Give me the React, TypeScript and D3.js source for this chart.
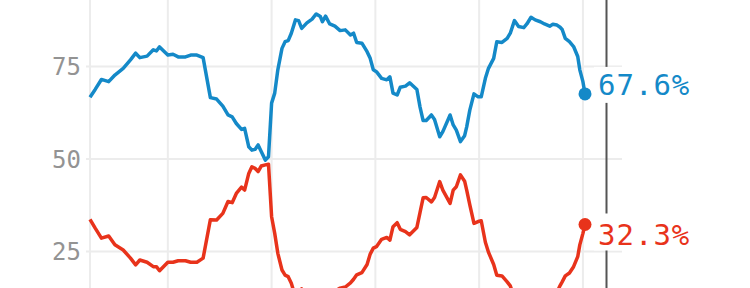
import React, { useEffect } from "react";
import * as d3 from "d3";

const periods = [
  2015.25, 2015.30, 2015.36, 2015.43, 2015.49, 2015.57, 2015.64, 2015.69, 2015.73, 2015.80,
  2015.86, 2015.89, 2015.92, 2016.00, 2016.05, 2016.10, 2016.17, 2016.22, 2016.28, 2016.34,
  2016.41, 2016.47, 2016.53, 2016.58, 2016.62, 2016.66, 2016.71, 2016.74, 2016.78, 2016.81,
  2016.84, 2016.87, 2016.90, 2016.94, 2016.97, 2017.00, 2017.03, 2017.06, 2017.10, 2017.13,
  2017.16, 2017.19, 2017.23, 2017.26, 2017.29, 2017.34, 2017.39, 2017.43, 2017.47, 2017.49,
  2017.52, 2017.56, 2017.61, 2017.66, 2017.71, 2017.76, 2017.79, 2017.82, 2017.87, 2017.92,
  2017.95, 2017.98, 2018.01, 2018.06, 2018.11, 2018.14, 2018.17, 2018.21, 2018.24, 2018.29,
  2018.33, 2018.40, 2018.43, 2018.46, 2018.49, 2018.54, 2018.57, 2018.62, 2018.65, 2018.72,
  2018.75, 2018.78, 2018.82, 2018.86, 2018.88, 2018.91, 2018.95, 2018.99, 2019.02, 2019.06,
  2019.09, 2019.14, 2019.17, 2019.22, 2019.27, 2019.30, 2019.34, 2019.38, 2019.43, 2019.46,
  2019.50, 2019.54, 2019.59, 2019.63, 2019.68, 2019.71, 2019.75, 2019.78, 2019.80, 2019.83,
  2019.87, 2019.91, 2019.95, 2019.97, 2020.00, 2020.02,
];

const blueValues = [
  66.7, 68.8, 71.5, 70.9, 72.7, 74.5, 76.8, 78.6, 77.4, 77.8,
  79.5, 79.2, 80.3, 78.1, 78.3, 77.6, 77.6, 78.1, 78.1, 77.4,
  66.6, 66.2, 64.3, 61.9, 61.4, 59.6, 58.0, 58.3, 53.3, 52.4,
  52.6, 53.8, 52.0, 49.7, 50.6, 65.1, 67.8, 74.1, 79.9, 81.7,
  82.0, 84.0, 87.6, 87.4, 85.3, 86.8, 87.8, 89.2, 88.5, 87.1,
  88.6, 86.5, 85.9, 84.7, 84.9, 83.5, 84.0, 81.5, 81.3, 79.0,
  77.2, 74.1, 73.6, 71.8, 71.4, 72.2, 67.8, 67.3, 69.4, 69.7,
  70.6, 68.8, 64.1, 60.4, 60.4, 61.9, 60.7, 56.0, 57.4, 61.9,
  59.2, 57.8, 54.7, 56.3, 58.7, 63.2, 67.6, 66.8, 66.8, 71.8,
  74.5, 77.2, 81.7, 81.5, 82.6, 84.0, 87.4, 85.8, 85.5, 86.5,
  88.3, 87.6, 87.1, 86.5, 85.9, 86.4, 86.2, 85.6, 85.0, 82.6,
  81.7, 80.4, 77.7, 74.1, 70.9, 67.6,
];

const redValues = [
  33.7, 31.3, 28.6, 29.2, 26.8, 25.4, 23.2, 21.4, 22.7, 22.1,
  20.9, 20.9, 19.8, 22.1, 22.1, 22.5, 22.5, 22.1, 22.1, 23.2,
  33.6, 33.5, 35.3, 38.5, 38.2, 40.7, 42.4, 41.6, 46.1, 47.9,
  47.5, 46.6, 48.1, 48.4, 48.6, 34.4, 29.9, 24.5, 20.0, 18.6,
  18.2, 16.4, 12.7, 12.9, 14.9, 13.4, 12.4, 11.1, 11.7, 13.1,
  11.6, 13.7, 14.3, 15.1, 15.4, 16.5, 17.5, 18.7, 19.3, 21.5,
  24.3, 25.9, 26.3, 28.3, 28.8, 28.1, 31.7, 32.8, 31.0, 30.4,
  29.5, 31.5, 35.5, 39.5, 39.6, 38.4, 39.6, 43.9, 41.6, 38.0,
  41.6, 42.5, 45.7, 44.0, 41.6, 37.6, 32.6, 33.1, 33.3, 27.5,
  24.8, 21.5, 18.6, 18.4, 16.8, 15.7, 12.5, 14.0, 14.4, 13.4,
  11.6, 12.3, 12.8, 13.4, 14.0, 13.5, 14.0, 15.8, 16.8, 18.4,
  19.2, 20.9, 23.6, 26.8, 29.9, 32.3,
];

const yTicks = [25, 50, 75];
const xGridTicks = [2015.25, 2016, 2017, 2018, 2019, 2020];
const lastLabels = ["67.6%", "32.3%"];

const W = 750;
const H = 288;
const BLUE = "#1489c8";
const RED = "#e8331b";
const GRID = "#ececec";
const MONO = "'DejaVu Sans Mono', 'Liberation Mono', monospace";

export default function App() {
  useEffect(() => {
    document.body.style.margin = "0";
  }, []);

  const x = d3.scaleLinear().domain([2015.25, 2020.02]).range([90, 585]);
  const y = d3.scaleLinear().domain([0, 100]).range([344, -26]);

  const blueData = periods.map((p, i) => [p, blueValues[i]] as [number, number]);
  const redData = periods.map((p, i) => [p, redValues[i]] as [number, number]);

  const line = d3
    .line<[number, number]>()
    .x((d) => x(d[0]))
    .y((d) => y(d[1]));

  const n = periods.length - 1;
  const lastX = x(periods[n]);
  const blueY = y(blueValues[n]);
  const redY = y(redValues[n]);
  const labelX = lastX + 13;
  const blueBase = blueY + 1;
  const redBase = redY + 21;
  const todayX = 606.5;

  return (
    <svg
      width={W}
      height={H}
      style={{ position: "absolute", left: 0, top: 0, display: "block", background: "#fff" }}
    >
      {yTicks.map((t) => (
        <line key={"h" + t} x1={86} x2={622} y1={y(t)} y2={y(t)} stroke={GRID} strokeWidth={2} />
      ))}
      {xGridTicks.map((t) => (
        <line key={"v" + t} x1={x(t)} x2={x(t)} y1={0} y2={H} stroke={GRID} strokeWidth={2} />
      ))}
      {yTicks.map((t) => (
        <text
          key={"l" + t}
          x={81}
          y={y(t)}
          dy="0.36em"
          textAnchor="end"
          fill="#939393"
          fontFamily={MONO}
          fontSize={24}
        >
          {t}
        </text>
      ))}
      <line x1={todayX} x2={todayX} y1={0} y2={H} stroke="#555" strokeWidth={2} />
      <path d={line(blueData) || ""} fill="none" stroke={BLUE} strokeWidth={3.5} strokeLinejoin="round" />
      <path d={line(redData) || ""} fill="none" stroke={RED} strokeWidth={3.5} strokeLinejoin="round" />
      <rect x={labelX - 4} y={blueBase - 28} width={108} height={36} fill="#fff" />
      <rect x={labelX - 4} y={redBase - 32} width={108} height={37} fill="#fff" />
      <circle cx={lastX} cy={blueY} r={6.5} fill={BLUE} />
      <circle cx={lastX} cy={redY} r={6.5} fill={RED} />
      <text x={labelX} y={blueBase} fill={BLUE} fontFamily={MONO} fontSize={29} letterSpacing={1}>
        {lastLabels[0]}
      </text>
      <text x={labelX} y={redBase} fill={RED} fontFamily={MONO} fontSize={29} letterSpacing={1}>
        {lastLabels[1]}
      </text>
    </svg>
  );
}
